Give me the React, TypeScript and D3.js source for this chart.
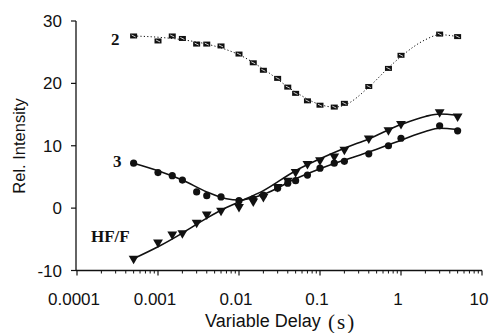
import React from "react";
import * as d3 from "d3";

const delays = [0.0005, 0.001, 0.0015, 0.002, 0.003, 0.004, 0.006, 0.01, 0.015, 0.02, 0.03, 0.04, 0.05, 0.07, 0.1, 0.15, 0.2, 0.4, 0.7, 1, 3, 5];
const series2 = [27.6, 26.8, 27.6, 27.2, 26.3, 26.3, 26.0, 24.7, 23.3, 22.1, 20.8, 19.4, 18.4, 17.2, 16.5, 16.2, 16.8, 19.5, 22.4, 24.5, 27.9, 27.5];
const series3 = [7.2, 5.7, 5.2, 4.5, 2.6, 2.0, 1.8, 1.2, 1.5, 2.1, 3.2, 4.0, 4.4, 5.3, 6.4, 7.2, 7.5, 8.7, 10.0, 11.2, 13.2, 12.4];
const seriesHF = [-8.1, -5.5, -4.2, -4.0, -2.3, -1.0, -0.4, 0.2, 1.1, 1.8, 3.4, 4.4, 5.8, 7.1, 7.7, 8.3, 9.4, 11.2, 12.5, 13.5, 15.4, 14.7];

const fitX2 = [0.0005, 0.001, 0.002, 0.004, 0.007, 0.01, 0.02, 0.05, 0.1, 0.15, 0.2, 0.4, 0.7, 1, 2, 3, 5];
const fit2 = [27.6, 27.4, 27.0, 26.3, 25.4, 24.6, 22.3, 18.6, 16.6, 16.2, 16.5, 19.4, 22.5, 24.3, 27.0, 27.8, 27.5];
const fitX = [0.0005, 0.001, 0.002, 0.004, 0.007, 0.01, 0.02, 0.05, 0.1, 0.2, 0.4, 1, 2, 3, 5];
const fit3 = [7.2, 6.0, 4.5, 2.6, 1.5, 1.3, 2.2, 4.7, 6.3, 7.7, 9.0, 10.9, 12.3, 12.8, 12.6];
const fitHF = [-8.1, -6.2, -4.0, -1.6, 0.1, 1.0, 2.8, 6.0, 7.9, 9.6, 11.1, 13.4, 14.7, 15.1, 14.9];

const xTicks = [0.0001, 0.001, 0.01, 0.1, 1, 10];
const xTickLabels = ["0.0001", "0.001", "0.01", "0.1", "1", "10"];
const yTicks = [-10, 0, 10, 20, 30];

export default function App() {
  const W = 492, H = 333;
  const x = d3.scaleLog().domain([1e-4, 10]).range([77, 482]);
  const y = d3.scaleLinear().domain([-10, 30]).range([270.5, 21]);
  const axisY = 270.5;
  const axisX = 76;

  const line = d3.line<[number, number]>().x(d => x(d[0])).y(d => y(d[1])).curve(d3.curveMonotoneX);
  const path2 = line(fitX2.map((v, i) => [v, fit2[i]]) as [number, number][]) || "";
  const path3 = line(fitX.map((v, i) => [v, fit3[i]]) as [number, number][]) || "";
  const pathHF = line(fitX.map((v, i) => [v, fitHF[i]]) as [number, number][]) || "";

  const minor: number[] = [];
  for (let e = -4; e < 1; e++) {
    for (let m = 2; m <= 9; m++) minor.push(m * Math.pow(10, e));
  }
  const tri = d3.symbol().type(d3.symbolTriangle).size(42)() || "";
  const ink = "#111";

  return (
    <svg width={W} height={H} style={{ position: "absolute", left: 0, top: 0, background: "#fff" }}>
      <rect width={W} height={H} fill="#fff" />
      {/* axes */}
      <line x1={axisX} x2={axisX} y1={y(30)} y2={axisY} stroke={ink} strokeWidth={1.3} />
      <line x1={axisX} x2={x(10)} y1={axisY} y2={axisY} stroke={ink} strokeWidth={1.3} />
      {yTicks.map(t => (
        <g key={"yt" + t}>
          <line x1={axisX - 5} x2={axisX} y1={y(t)} y2={y(t)} stroke={ink} strokeWidth={1.2} />
          <text x={62} y={y(t)} dy="0.36em" textAnchor="end" fontFamily="Liberation Sans, Arial, sans-serif" fontSize={17} fill={ink}>{t}</text>
        </g>
      ))}
      {xTicks.map((t, i) => (
        <g key={"xt" + t}>
          <line x1={x(t)} x2={x(t)} y1={axisY} y2={axisY + 5} stroke={ink} strokeWidth={1.2} />
          <text x={x(t) - 3} y={305} textAnchor="middle" fontFamily="Liberation Sans, Arial, sans-serif" fontSize={17} fill={ink}>{xTickLabels[i]}</text>
        </g>
      ))}
      {minor.map(t => (
        <line key={"mt" + t} x1={x(t)} x2={x(t)} y1={axisY} y2={axisY + 3} stroke={ink} strokeWidth={1} />
      ))}
      {/* axis titles */}
      <text x={205} y={327} textAnchor="start" fontFamily="Liberation Sans, Arial, sans-serif" fontSize={18} fill={ink}>Variable Delay</text>
      <text x={328} y={329} textAnchor="start" fontFamily="Liberation Serif, Times New Roman, serif" fontSize={21} letterSpacing={2} fill={ink}>(s)</text>
      <text transform={`translate(25,146) rotate(-90)`} textAnchor="middle" fontFamily="Liberation Sans, Arial, sans-serif" fontSize={16.5} fill={ink}>Rel. Intensity</text>

      {/* fit curves */}
      <path d={path2} fill="none" stroke={ink} strokeWidth={1} strokeDasharray="1.2 2.2" />
      <path d={path3} fill="none" stroke={ink} strokeWidth={1.6} />
      <path d={pathHF} fill="none" stroke={ink} strokeWidth={1.6} />

      {/* markers */}
      {delays.map((d, i) => (
        <g key={"s2" + i} transform={`translate(${x(d)},${y(series2[i])})`}>
          <rect x={-3.5} y={-2.5} width={7} height={5} fill={ink} />
          <line x1={-2} x2={2} y1={-1} y2={1} stroke="#fff" strokeWidth={0.8} />
        </g>
      ))}
      {delays.map((d, i) => (
        <circle key={"s3" + i} cx={x(d)} cy={y(series3[i])} r={3.6} fill={ink} />
      ))}
      {delays.map((d, i) => (
        <path key={"hf" + i} d={tri} transform={`translate(${x(d)},${y(seriesHF[i])}) rotate(180)`} fill={ink} />
      ))}

      {/* series labels */}
      <text x={111} y={45} fontFamily="Liberation Serif, Times New Roman, serif" fontWeight="bold" fontSize={17} fill={ink}>2</text>
      <text x={113} y={167} fontFamily="Liberation Serif, Times New Roman, serif" fontWeight="bold" fontSize={17} fill={ink}>3</text>
      <text x={91} y={242} fontFamily="Liberation Serif, Times New Roman, serif" fontWeight="bold" fontSize={17} fill={ink}>HF/F</text>
    </svg>
  );
}
